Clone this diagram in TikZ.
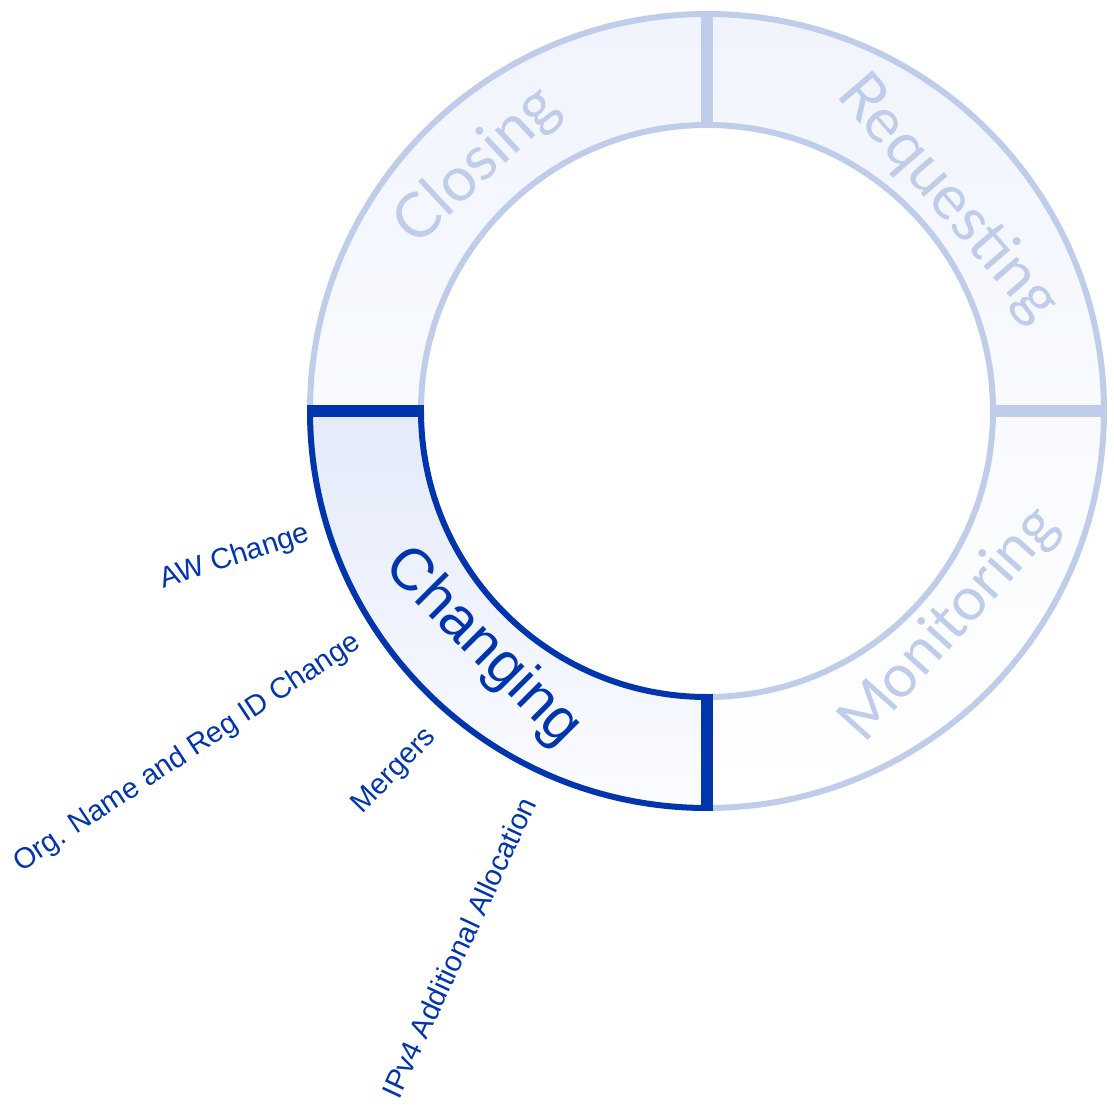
\documentclass[tikz,border=0pt]{standalone}
\usepackage{fontspec}
\setmainfont{Liberation Sans}
\newfontfamily\phasefont{Lato}
\definecolor{dark}{HTML}{0035AD}
\definecolor{pale}{HTML}{BFCDEA}
\definecolor{fillA}{HTML}{F1F4FD}
\definecolor{fillB}{HTML}{F8FAFE}
\definecolor{chgA}{HTML}{E4EAFA}
\definecolor{chgB}{HTML}{FBFCFF}
\def\Ro{397}
\def\Ri{286}
\newcommand{\drawsector}[5]{%
  \shade[top color=#3,bottom color=#4] (#1:\Ro) arc[start angle=#1,end angle=#2,radius=\Ro] -- (#2:\Ri) arc[start angle=#2,end angle=#1,radius=\Ri] -- cycle;
  \draw[#5,line width=6] (#1:\Ro) arc[start angle=#1,end angle=#2,radius=\Ro];
  \draw[#5,line width=6] (#1:\Ri) arc[start angle=#1,end angle=#2,radius=\Ri];
  \draw[#5,line width=12] (#1:{\Ri-3}) -- (#1:{\Ro+3});
  \draw[#5,line width=12] (#2:{\Ri-3}) -- (#2:{\Ro+3});
}
\tikzset{
  phase/.style={text=pale, font=\phasefont\fontsize{62}{68}\selectfont, inner sep=0},
  active/.style={text=dark, font=\fontsize{59}{66}\selectfont, inner sep=0},
  sub/.style={text=dark, font=\fontsize{29}{33}\selectfont, anchor=east, inner sep=0}
}
\begin{document}
\begin{tikzpicture}[x=1pt,y=1pt]
\useasboundingbox (-707,-698) rectangle (407,411);
\drawsector{0}{90}{fillA}{fillB}{pale}
\drawsector{90}{180}{fillA}{fillB}{pale}
\drawsector{270}{360}{fillB}{white}{pale}
\drawsector{180}{270}{chgA}{chgB}{dark}
\node[phase, rotate=-49] (req) at (241,212) {Requesting};
\node[phase, rotate=43] (clo) at (-229.5,244.5) {Closing};
\node[phase, rotate=48, font=\phasefont\fontsize{60}{66}\selectfont] (mon) at (243,-214) {Monitoring};
\node[active, rotate=-45] (chg) at (-224.5,-236.5) {Changing};
\node[sub, rotate=18] (aw) at (-398,-122) {AW Change};
\node[sub, rotate=33.5] (org) at (-349,-229) {Org. Name and Reg ID Change};
\node[sub, rotate=46] (mer) at (-275,-322) {Mergers};
\node[sub, rotate=65] (ipv) at (-179,-388) {IPv4 Additional Allocation};
\end{tikzpicture}
\end{document}
